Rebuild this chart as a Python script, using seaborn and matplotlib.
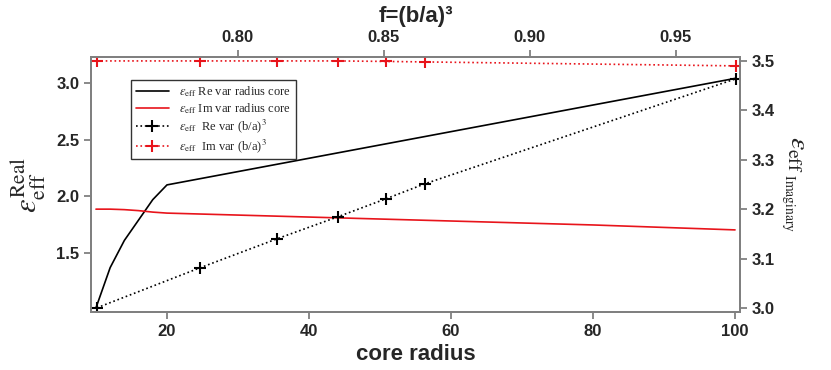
import pandas as pd
import seaborn as sns
import matplotlib.pyplot as plt
from matplotlib.lines import Line2D

# Data
radius_re = [10, 12, 14, 16, 18, 20, 100]
eps_re_radius = [1.015, 1.37, 1.61, 1.79, 1.97, 2.10, 3.04]

radius_im = [10, 12, 14, 16, 18, 20, 40, 60, 80, 100]
eps_im_radius = [3.200, 3.200, 3.199, 3.197, 3.194, 3.192, 3.184, 3.176, 3.168, 3.158]

f_vals = [0.7517, 0.787, 0.8134, 0.8342, 0.8507, 0.864, 0.9705]
eps_re_f = [1.015, 1.368, 1.624, 1.818, 1.977, 2.109, 3.036]
eps_im_f = [3.500, 3.500, 3.500, 3.500, 3.499, 3.498, 3.490]

red = '#e8141b'

sns.set_style("ticks")
plt.rcParams['font.family'] = ['Liberation Sans', 'DejaVu Sans']
plt.rcParams['mathtext.fontset'] = 'stix'

fig = plt.figure(figsize=(8.31, 3.70), dpi=100)
ax = fig.add_axes([0.1095, 0.157, 0.781, 0.689])
ax2 = ax.twinx()    # right axis: imaginary part
ax3 = ax.twiny()    # top axis: f, left y
ax4 = ax2.twiny()   # top axis: f, right y

sns.lineplot(x=radius_re, y=eps_re_radius, ax=ax, color='black', linewidth=1.2)
sns.lineplot(x=radius_im, y=eps_im_radius, ax=ax2, color=red, linewidth=1.2)
sns.lineplot(x=f_vals, y=eps_re_f, ax=ax3, color='black', linestyle=':', linewidth=1.2,
             marker='+', markersize=9, markeredgewidth=1.5, markeredgecolor='black')
sns.lineplot(x=f_vals, y=eps_im_f, ax=ax4, color=red, linestyle=':', linewidth=1.2,
             marker='+', markersize=9, markeredgewidth=1.5, markeredgecolor=red)

ax.set_xlim(9.3, 100.7)
ax.set_ylim(0.979, 3.229)
ax2.set_ylim(2.992, 3.508)
ax3.set_xlim(0.7497, 0.972)
ax4.set_xlim(0.7497, 0.972)
ax3.set_ylim(ax.get_ylim())

ax.set_xticks([20, 40, 60, 80, 100])
ax.set_yticks([1.5, 2.0, 2.5, 3.0])
ax2.set_yticks([3.0, 3.1, 3.2, 3.3, 3.4, 3.5])
ax3.set_xticks([0.80, 0.85, 0.90, 0.95])
ax3.set_xticklabels(['0.80', '0.85', '0.90', '0.95'])
ax4.set_xticks([])
ax4.tick_params(top=False, labeltop=False)

for a in (ax, ax2, ax3, ax4):
    for s in a.spines.values():
        s.set_color('#808080')
        s.set_linewidth(1.3)
    a.tick_params(direction='out', length=5, width=1.3, color='#808080', labelsize=12)
    for lab in a.get_xticklabels() + a.get_yticklabels():
        lab.set_fontweight('bold')

ax.set_xlabel("core radius", fontsize=16, fontweight='bold', labelpad=4)
ax3.set_xlabel("f=(b/a)³", fontsize=16, fontweight='bold', labelpad=6)
ax.set_ylabel(r'$\varepsilon_{\mathrm{eff}}^{\mathrm{Real}}$', fontsize=22, labelpad=6)
ax2.set_ylabel(r'$\varepsilon_{\mathrm{eff}\ _{\mathrm{Imaginary}}}$', fontsize=20,
               rotation=270, labelpad=22)

handles = [
    Line2D([], [], color='black', linewidth=1.2),
    Line2D([], [], color=red, linewidth=1.2),
    Line2D([], [], color='black', linestyle=':', linewidth=1.2, marker='+',
           markersize=9, markeredgewidth=1.5),
    Line2D([], [], color=red, linestyle=':', linewidth=1.2, marker='+',
           markersize=9, markeredgewidth=1.5),
]
labels = [
    r'$\varepsilon_{\mathrm{eff}}$ Re var radius core',
    r'$\varepsilon_{\mathrm{eff}}$ Im var radius core',
    r'$\varepsilon_{\mathrm{eff}}$  Re var (b/a)$^3$',
    r'$\varepsilon_{\mathrm{eff}}$  Im var (b/a)$^3$',
]
leg = ax4.legend(handles, labels, loc='upper left', bbox_to_anchor=(0.062, 0.91),
                 borderaxespad=0, fancybox=False, framealpha=1, edgecolor='#333333',
                 prop={'family': 'Liberation Serif', 'size': 9},
                 handlelength=2.7, labelspacing=0.15, borderpad=0.35)
leg.get_frame().set_linewidth(1.0)

plt.savefig("out.png", dpi=100)
